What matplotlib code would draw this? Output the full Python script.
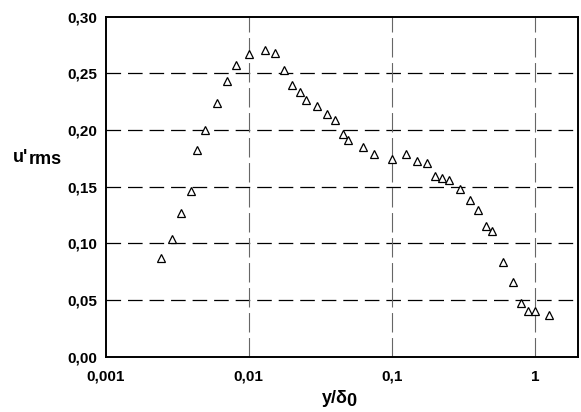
import matplotlib
matplotlib.use('Agg')
import matplotlib.pyplot as plt
from matplotlib.ticker import NullLocator

y_delta = [0.00244, 0.0029, 0.00337, 0.00394, 0.00438, 0.00496, 0.00598,
           0.00703, 0.00812, 0.0100, 0.0131, 0.0152, 0.0176, 0.0202, 0.0227,
           0.0252, 0.0301, 0.0353, 0.0404, 0.0454, 0.0495, 0.0626, 0.0755,
           0.1007, 0.1248, 0.1506, 0.175, 0.200, 0.225, 0.252, 0.300, 0.351,
           0.401, 0.453, 0.499, 0.598, 0.700, 0.798, 0.898, 1.0, 1.25]
u_rms = [0.087, 0.104, 0.127, 0.146, 0.182, 0.200, 0.2235, 0.2435, 0.257,
         0.267, 0.271, 0.268, 0.253, 0.240, 0.2335, 0.2265, 0.221, 0.214,
         0.209, 0.196, 0.191, 0.185, 0.179, 0.174, 0.179, 0.173, 0.1705,
         0.159, 0.158, 0.156, 0.1475, 0.138, 0.129, 0.1155, 0.1105, 0.083,
         0.0655, 0.0475, 0.0405, 0.040, 0.0365]

xticks = [0.001, 0.01, 0.1, 1]
xtick_lbls = ['0,001', '0,01', '0,1', '1']
yticks = [0.0, 0.05, 0.10, 0.15, 0.20, 0.25, 0.30]
ytick_lbls = ['0,00', '0,05', '0,10', '0,15', '0,20', '0,25', '0,30']

plt.rcParams['font.family'] = ['Liberation Sans', 'DejaVu Sans']
plt.rcParams['font.weight'] = 'bold'
plt.rcParams['lines.scale_dashes'] = False

fig = plt.figure(figsize=(5.81, 4.12), dpi=100)
ax = fig.add_axes([0.1816, 0.1347, 0.8132, 0.8248])
ax.set_xscale('log')
ax.set_xlim(0.001, 2)
ax.set_ylim(0, 0.30)

for yv in yticks[1:-1]:
    ax.axhline(yv, color='black', lw=0.9, dashes=(10.5, 5), zorder=1)
for xv in xticks[1:]:
    ax.axvline(xv, color='#666666', lw=0.8, dashes=(14, 4), zorder=1)

ax.plot(y_delta, u_rms, linestyle='none', marker='^', ms=5.5,
        mfc='white', mec='black', mew=0.9, zorder=3)

ax.set_xticks(xticks)
ax.set_xticklabels(xtick_lbls)
ax.xaxis.set_minor_locator(NullLocator())
ax.set_yticks(yticks)
ax.set_yticklabels(ytick_lbls)
ax.tick_params(axis='both', length=0, labelsize=11)
ax.tick_params(axis='x', pad=9.5)
ax.tick_params(axis='y', pad=6)
for sp in ax.spines.values():
    sp.set_linewidth(1.4)

# y label: u' with a lowered "rms"
t1 = fig.text(13 / 581, 1 - 162 / 412, "u'", fontsize=13, fontweight='bold',
              ha='left', va='baseline')
ax.annotate('rms', xy=(1, 0), xycoords=t1, xytext=(0, -1.5),
            textcoords='offset points', fontsize=13, fontweight='bold',
            ha='left', va='bottom', annotation_clip=False)

# x label: y/delta with a lowered 0
t2 = fig.text(322 / 581, 1 - 403 / 412, 'y/\u03b4', fontsize=13,
              fontweight='bold', ha='left', va='baseline')
ax.annotate('0', xy=(1, 0), xycoords=t2, xytext=(-1, -2.5),
            textcoords='offset points', fontsize=13, fontweight='bold',
            ha='left', va='bottom', annotation_clip=False)

plt.savefig('out.png', dpi=100)
plt.close(fig)
